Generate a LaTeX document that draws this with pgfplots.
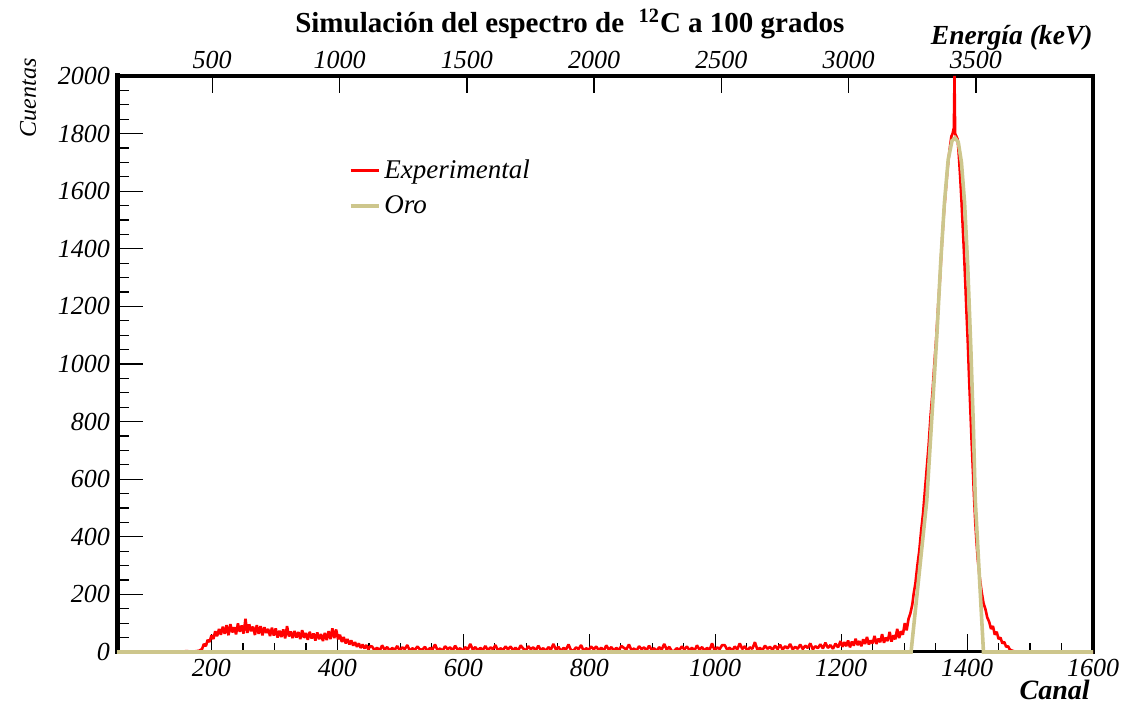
\documentclass[border=0pt]{standalone}
\usepackage{fontspec}
\setmainfont{Liberation Serif}
\usepackage{pgfplots}
\pgfplotsset{compat=1.18}
\definecolor{expred}{RGB}{255,0,0}
\definecolor{oro}{RGB}{205,198,140}

\begin{document}
\begin{tikzpicture}
\pgfplotsset{
  base/.style={scale only axis, width=488pt, height=288pt,
    xmin=50, xmax=1600, ymin=0, ymax=2000,
    tick align=inside, clip=false,
    ticklabel style={font=\fontsize{13}{15}\selectfont\itshape},
    /pgf/number format/assume math mode=true,
    /pgf/number format/1000 sep={}},
}
% left (counts) axis
\begin{axis}[base, axis x line=none, axis y line*=left,
  ytick={0,200,...,2000}, minor y tick num=3,
  major tick length=13pt, minor tick length=6pt,
  y axis line style={-, line width=2.5pt, line cap=rect},
  ytick style={line width=0.6pt, black}]
\end{axis}
% top (energy) axis + right frame
\begin{axis}[base, xmin=126, xmax=3960, axis y line=none, axis x line*=top,
  xtick={500,1000,...,3500}, minor x tick num=0, major tick length=8.5pt,
  x axis line style={-, line width=2pt, line cap=rect},
  xtick style={line width=0.7pt, black}]
\draw[line width=2pt, line cap=rect] (rel axis cs:1,0) -- (rel axis cs:1,1);
\end{axis}
% bottom (channel) axis + data
\begin{axis}[base, axis y line=none, axis x line*=bottom,
  xtick={200,400,...,1600}, minor x tick num=3,
  major tick length=9pt, minor tick length=4.5pt,
  x axis line style={-, line width=1.5pt},
  xtick style={line width=0.6pt, black},
  legend style={at={(0.237,0.862)}, anchor=north west, draw=none, fill=none,
    font=\fontsize{13.5}{15}\selectfont\itshape, row sep=3pt, inner sep=0pt},
  legend cell align=left,
  legend image code/.code={\draw[#1] (0pt,0pt) -- (14pt,0pt);}]
\addplot[expred, line width=1.3pt, line join=bevel] coordinates {
(50,0)(150,0)(160,3)(170,1)(180,4)(185,10)
(188,28)(191,20)(194,42)(197,35)(200,58)(203,45)(206,72)(209,55)(212,80)(215,60)
(218,88)(221,63)(224,93)(227,58)(230,97)(233,68)(236,86)(239,61)(242,99)(245,70)
(248,92)(251,64)(254,115)(257,66)(260,96)(263,72)(266,88)(269,59)(272,93)(275,63)
(278,90)(281,58)(284,86)(287,66)(290,80)(293,55)(296,84)(299,57)(302,82)
(305,50)(308,74)(311,52)(314,78)(317,47)(320,90)(323,54)(326,71)(329,48)(332,73)
(335,50)(338,69)(341,45)(344,76)(347,49)(350,66)(353,42)(356,70)(359,47)(362,64)
(365,40)(368,68)(371,44)(374,62)(377,38)(380,66)(383,41)(386,72)(389,45)(392,82)
(395,48)(398,78)(401,44)(404,60)(407,35)(410,52)(413,30)(416,45)(419,26)(422,40)
(425,22)(428,34)(431,18)(434,30)(437,14)(440,26)(443,12)(446,24)(449,9)(452,20)
(455,19)(459,6)(463,15)(467,4)(471,23)(475,8)(479,17)(483,5)(487,14)(491,7)
(495,21)(499,5)(503,16)(507,10)(511,24)(515,4)(519,13)(523,7)(527,19)(531,9)
(535,8)(539,18)(543,3)(547,14)(551,9)(555,26)(559,6)(563,12)(567,4)(571,20)
(575,10)(579,16)(583,5)(587,22)(591,7)(595,13)(599,3)(603,17)(607,8)(611,28)
(615,8)(619,17)(623,5)(627,14)(631,7)(635,21)(639,5)(643,16)(647,10)(651,24)
(655,4)(659,13)(663,7)(667,19)(671,9)(675,19)(679,6)(683,15)(687,4)(691,23)
(695,12)(699,4)(703,20)(707,10)(711,16)(715,5)(719,22)(723,7)(727,13)(731,3)
(735,17)(739,8)(743,28)(747,8)(751,18)(755,3)(759,14)(763,9)(767,26)(771,6)
(775,5)(779,16)(783,10)(787,24)(791,4)(795,13)(799,7)(803,19)(807,9)(811,19)
(815,6)(819,15)(823,4)(827,23)(831,8)(835,17)(839,5)(843,14)(847,7)(851,21)
(855,14)(859,9)(863,26)(867,6)(871,12)(875,4)(879,20)(883,10)(887,16)(891,5)
(895,22)(899,7)(903,13)(907,3)(911,17)(915,8)(919,28)(923,8)(927,18)(931,3)
(935,4)(939,13)(943,7)(947,19)(951,9)(955,19)(959,6)(963,15)(967,4)(971,23)
(975,8)(979,17)(983,5)(987,14)(991,7)(995,30)(999,5)(1003,16)(1007,10)(1011,24)
(1015,24)(1019,8)(1023,15)(1027,4)(1031,19)(1035,9)(1039,30)(1043,10)(1047,20)(1051,5)
(1055,16)(1059,11)(1063,34)(1067,8)(1071,14)(1075,6)(1079,22)(1083,11)(1087,18)(1091,7)
(1095,22)(1099,10)(1103,25)(1107,8)(1111,20)(1115,12)(1119,28)(1123,9)(1127,18)(1131,11)
(1135,26)(1139,10)(1143,22)(1147,14)(1151,30)(1155,9)(1159,20)(1163,13)(1167,27)(1171,12)
(1175,32)(1179,14)(1183,24)(1187,11)(1191,29)(1195,16)(1199,38)
(1202,18)(1205,34)(1208,20)(1211,40)(1214,16)(1217,36)(1220,22)(1223,46)(1226,24)(1229,38)
(1232,20)(1235,44)(1238,28)(1241,52)(1244,26)(1247,40)(1250,30)(1253,56)(1256,28)(1259,46)
(1262,34)(1265,62)(1268,32)(1271,50)(1274,38)(1277,70)(1280,36)(1283,58)(1286,44)(1289,80)
(1292,48)(1295,72)(1298,60)(1301,100)(1304,75)(1307,115)(1310,135)(1313,165)
(1315,200)(1318,240)(1321,300)(1324,350)(1327,420)(1330,480)(1333,560)(1336,640)(1339,720)
(1342,820)(1345,900)(1348,1000)(1351,1090)(1354,1200)(1357,1300)(1360,1420)(1363,1520)
(1366,1600)(1369,1680)(1372,1740)(1375,1790)(1377,1800)(1379,1820)(1380,2000)(1381,1800)
(1383,1790)(1385,1780)(1387,1720)(1389,1650)(1391,1570)(1393,1480)(1395,1390)(1397,1290)
(1399,1180)(1401,1080)(1403,960)(1405,850)(1407,740)(1409,640)(1411,540)(1413,450)
(1415,380)(1417,320)(1420,260)(1423,210)(1426,170)(1429,150)(1432,120)(1435,105)
(1438,80)(1441,90)(1444,60)(1447,70)(1450,45)(1453,50)(1456,30)(1459,35)(1462,18)
(1465,20)(1468,8)(1471,5)(1475,2)(1480,0)(1600,0)};
\addplot[oro, line width=1.8pt] coordinates {
(50,0)(1311,0)(1336,527)(1345,850)(1352,1100)(1358,1350)(1364,1560)(1370,1710)
(1376,1775)(1381,1785)(1386,1770)(1391,1700)(1396,1560)(1401,1340)(1406,1050)
(1410,780)(1413,527)(1426,0)(1600,0)};
\legend{Experimental, Oro}
\node[font=\fontsize{14.5}{17}\selectfont\bfseries] at (rel axis cs:0.464,1.090)
  {Simulación del espectro de \ \textsuperscript{12}C a 100 grados};
\node[font=\fontsize{13.8}{16}\selectfont\bfseries\itshape, anchor=east, inner sep=0pt]
  at (rel axis cs:1.0,1.066) {Energía (keV)};
\node[font=\fontsize{12}{14}\selectfont\itshape, rotate=90, inner sep=0pt]
  at (rel axis cs:-0.0912,0.962) {Cuentas};
\node[font=\fontsize{14}{16}\selectfont\bfseries\itshape, anchor=east, inner sep=0pt]
  at (rel axis cs:0.997,-0.066) {Canal};
\coordinate (BL) at (rel axis cs:-0.1199,-0.0885);
\coordinate (TR) at (rel axis cs:1.0307,1.1319);
\end{axis}
\pgfresetboundingbox
\useasboundingbox (BL) rectangle (TR);
\end{tikzpicture}
\end{document}
